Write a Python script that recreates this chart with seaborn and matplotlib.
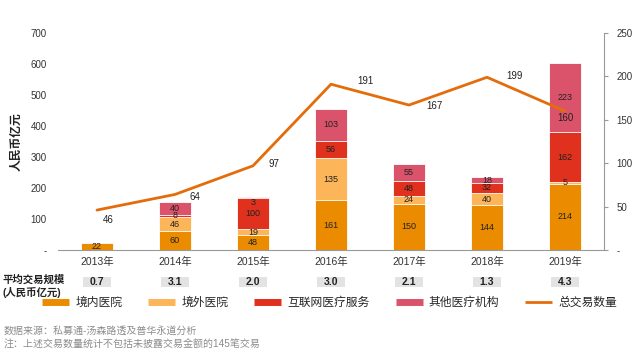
import numpy as np
import pandas as pd
import matplotlib
matplotlib.use("Agg")
import matplotlib.pyplot as plt
import matplotlib.transforms as mtransforms
from matplotlib.patches import Rectangle
from matplotlib.lines import Line2D
import seaborn as sns

years = ["2013年", "2014年", "2015年", "2016年", "2017年", "2018年", "2019年"]
domestic = [22, 60, 48, 161, 150, 144, 214]
overseas = [0, 46, 19, 135, 24, 40, 5]
internet = [0, 8, 100, 56, 48, 32, 162]
other = [2, 40, 3, 103, 55, 18, 223]
deals = [46, 64, 97, 191, 167, 199, 160]
avg_size = ["0.7", "3.1", "2.0", "3.0", "2.1", "1.3", "4.3"]
series_names = ["境内医院", "境外医院", "互联网医疗服务", "其他医疗机构"]
line_name = "总交易数量"

colors = ["#EB8C00", "#FDB55A", "#E0301E", "#DB536A"]
line_color = "#E46C0A"

sns.set_theme(style="white")
plt.rcParams["font.family"] = ["Liberation Sans", "Noto Sans CJK SC", "DejaVu Sans"]

fig = plt.figure(figsize=(6.4, 3.6), dpi=100)
ax = fig.add_axes([58 / 640, 110 / 360, 546 / 640, 217 / 360])

layers = [domestic, overseas, internet, other]
cum = np.cumsum(np.array(layers), axis=0)
df = pd.DataFrame({"year": years})
for k in range(3, -1, -1):
    df["v"] = cum[k]
    sns.barplot(data=df, x="year", y="v", color=colors[k], saturation=1,
                width=0.4, errorbar=None, edgecolor="white", linewidth=0.6, ax=ax)

# segment labels
for k in range(4):
    for i in range(len(years)):
        v = layers[k][i]
        if v < 3:
            continue
        top = cum[k][i]
        if v <= 3:
            ax.text(i, top - 2, str(v), ha="center", va="top", fontsize=6.5, color="#222222")
        else:
            ax.text(i, top - v / 2, str(v), ha="center", va="center", fontsize=6.5, color="#222222")

ax.set_ylim(0, 700)
ax.set_xlim(-0.5, 6.5)
ax.set_yticks(range(0, 701, 100))
ax.set_yticklabels(["-"] + [str(t) for t in range(100, 701, 100)])
ax.set_xlabel("")
ax.set_ylabel("人民币亿元", fontsize=8.5, fontweight="bold", color="#222222", labelpad=6)
for s in ["top", "right", "left"]:
    ax.spines[s].set_visible(False)
ax.spines["bottom"].set_color("#999999")
ax.spines["bottom"].set_linewidth(0.8)
ax.tick_params(axis="y", length=0, pad=8, labelsize=7, labelcolor="#333333")
ax.tick_params(axis="x", which="major", length=0, pad=5, labelsize=7.5, labelcolor="#333333")
ax.set_xticks(np.arange(0.5, 6.5, 1), minor=True)
ax.tick_params(axis="x", which="minor", length=3, color="#999999", width=0.8, direction="out")

# line on twin axis
ax2 = ax.twinx()
sns.lineplot(x=np.arange(len(years)), y=deals, ax=ax2, color=line_color, linewidth=2)
ax2.set_ylim(0, 250)
ax2.set_xlim(-0.5, 6.5)
ax2.set_yticks(range(0, 251, 50))
ax2.set_yticklabels(["-"] + [str(t) for t in range(50, 251, 50)])
ax2.set_ylabel("")
for s in ["top", "left", "bottom"]:
    ax2.spines[s].set_visible(False)
ax2.spines["right"].set_color("#999999")
ax2.spines["right"].set_linewidth(0.8)
ax2.tick_params(axis="y", length=3, color="#999999", width=0.8, pad=6, labelsize=7, labelcolor="#333333")

offsets = [(8, -7), (14, -2), (15, 1), (25, 2), (18, -1), (20, 1), (0, -5)]
for i, (d, off) in enumerate(zip(deals, offsets)):
    ax2.annotate(str(d), (i, d), xytext=off, textcoords="offset points",
                 ha="center", va="center", fontsize=7, color="#222222")

# average deal size row
trans = mtransforms.blended_transform_factory(ax.transData, ax.transAxes)
for i, s in enumerate(avg_size):
    ax.add_patch(Rectangle((i - 0.18, -0.171), 0.36, 0.047, transform=trans,
                           facecolor="#E3E3E3", edgecolor="none", clip_on=False))
    ax.text(i, -0.148, s, transform=trans, ha="center", va="center",
            fontsize=7.5, fontweight="bold", color="#222222")
fig.text(0.004, 1 - 280 / 360, "平均交易规模", fontsize=7.5, fontweight="bold",
         color="#222222", va="center", ha="left")
fig.text(0.004, 1 - 292 / 360, "(人民币亿元)", fontsize=7.5, fontweight="bold",
         color="#222222", va="center", ha="left")

# legend
handles = [Line2D([0], [0], color=c, linewidth=5, solid_capstyle="butt") for c in colors]
handles.append(Line2D([0], [0], color=line_color, linewidth=2, solid_capstyle="butt"))
fig.legend(handles, series_names + [line_name], loc="center", ncol=5,
           bbox_to_anchor=(0.515, 1 - 303 / 360), frameon=False, fontsize=8.5,
           handlelength=2.3, columnspacing=2.2, handletextpad=0.5)

fig.text(0.006, 1 - 331 / 360, "数据来源：私募通-汤森路透及普华永道分析", fontsize=7.2,
         color="#8C8C8C", va="center")
fig.text(0.006, 1 - 345 / 360, "注：上述交易数量统计不包括未披露交易金额的145笔交易", fontsize=7.2,
         color="#8C8C8C", va="center")

fig.savefig("out.png", dpi=100)
